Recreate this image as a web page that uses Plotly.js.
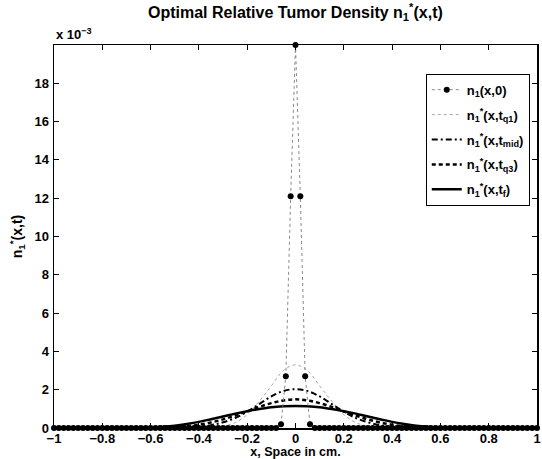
<!DOCTYPE html>
<html>
<head>
<meta charset="utf-8">
<script src="https://cdn.plot.ly/plotly-3.0.1.min.js"></script>
<style>html,body{margin:0;padding:0;background:#fff;}#chart{width:542px;height:459px;}</style>
</head>
<body>
<div id="chart"></div>
<script>
// Initial density n1(x,0), units of 1e-3, on grid step 0.02
const xInit = [-1,-0.98,-0.96,-0.94,-0.92,-0.9,-0.88,-0.86,-0.84,-0.82,-0.8,-0.78,-0.76,-0.74,-0.72,-0.7,-0.68,-0.66,-0.64,-0.62,-0.6,-0.58,-0.56,-0.54,-0.52,-0.5,-0.48,-0.46,-0.44,-0.42,-0.4,-0.38,-0.36,-0.34,-0.32,-0.3,-0.28,-0.26,-0.24,-0.22,-0.2,-0.18,-0.16,-0.14,-0.12,-0.1,-0.08,-0.06,-0.04,-0.02,0,0.02,0.04,0.06,0.08,0.1,0.12,0.14,0.16,0.18,0.2,0.22,0.24,0.26,0.28,0.3,0.32,0.34,0.36,0.38,0.4,0.42,0.44,0.46,0.48,0.5,0.52,0.54,0.56,0.58,0.6,0.62,0.64,0.66,0.68,0.7,0.72,0.74,0.76,0.78,0.8,0.82,0.84,0.86,0.88,0.9,0.92,0.94,0.96,0.98,1];
const nInit = [0,0,0,0,0,0,0,0,0,0,0,0,0,0,0,0,0,0,0,0,0,0,0,0,0,0,0,0,0,0,0,0,0,0,0,0,0,0,0,0,0,0,0,0,0,0,0,
  0.2,2.7,12.1,20,12.1,2.7,0.2,
  0,0,0,0,0,0,0,0,0,0,0,0,0,0,0,0,0,0,0,0,0,0,0,0,0,0,0,0,0,0,0,0,0,0,0,0,0,0,0,0,0,0,0,0,0,0,0];

// Optimal densities at later times, units of 1e-3, grid step 0.05
const xCurve = [-1,-0.95,-0.9,-0.85,-0.8,-0.75,-0.7,-0.65,-0.6,-0.55,-0.5,-0.45,-0.4,-0.35,-0.3,-0.25,-0.2,-0.15,-0.1,-0.05,0,0.05,0.1,0.15,0.2,0.25,0.3,0.35,0.4,0.45,0.5,0.55,0.6,0.65,0.7,0.75,0.8,0.85,0.9,0.95,1];
const nQ1  = [0,0,0,0,0,0,0,0,0,0,0,0,0.01,0.03,0.1,0.28,0.7,1.4,2.2,3.0,3.3,3.0,2.2,1.4,0.7,0.28,0.1,0.03,0.01,0,0,0,0,0,0,0,0,0,0,0,0];
const nMid = [0,0,0,0,0,0,0,0,0,0,0.01,0.03,0.07,0.15,0.3,0.52,0.85,1.25,1.65,1.93,2.03,1.93,1.65,1.25,0.85,0.52,0.3,0.15,0.07,0.03,0.01,0,0,0,0,0,0,0,0,0,0];
const nQ3  = [0,0,0,0,0,0,0,0,0,0.015,0.04,0.09,0.17,0.29,0.45,0.65,0.87,1.1,1.3,1.44,1.5,1.44,1.3,1.1,0.87,0.65,0.45,0.29,0.17,0.09,0.04,0.015,0,0,0,0,0,0,0,0,0];
const nTf  = [0,0,0,0,0,0,0,0.005,0.02,0.06,0.12,0.21,0.32,0.46,0.6,0.75,0.88,0.99,1.08,1.13,1.15,1.13,1.08,0.99,0.88,0.75,0.6,0.46,0.32,0.21,0.12,0.06,0.02,0.005,0,0,0,0,0,0,0];

const xTicks = [-1,-0.8,-0.6,-0.4,-0.2,0,0.2,0.4,0.6,0.8,1];
const xTickText = ['\u22121','\u22120.8','\u22120.6','\u22120.4','\u22120.2','0','0.2','0.4','0.6','0.8','1'];
const yTicks = [0,2,4,6,8,10,12,14,16,18];

const FONT = 'Liberation Sans, Arial, Helvetica, sans-serif';

const traces = [
  {x: xCurve, y: nQ1, name: 'n<sub>1</sub><sup>*</sup>(x,t<sub>q1</sub>)', mode: 'lines', cliponaxis: false,
   legendgroup: 'g2', legendrank: 2,
   line: {color: '#a8a8a8', width: 1, dash: 'dot', shape: 'spline'}},
  {x: xCurve, y: nMid, name: 'n<sub>1</sub><sup>*</sup>(x,t<sub>mid</sub>)', mode: 'lines', cliponaxis: false,
   legendgroup: 'g3', legendrank: 3,
   line: {color: '#000', width: 2, dash: '6px,3px,2px,3px', shape: 'spline'}},
  {x: xCurve, y: nQ3, name: 'n<sub>1</sub><sup>*</sup>(x,t<sub>q3</sub>)', mode: 'lines', cliponaxis: false,
   legendgroup: 'g4', legendrank: 4,
   line: {color: '#000', width: 2.5, dash: '4px,3px', shape: 'spline'}},
  {x: xCurve, y: nTf, name: 'n<sub>1</sub><sup>*</sup>(x,t<sub>f</sub>)', mode: 'lines', cliponaxis: false,
   legendgroup: 'g5', legendrank: 5,
   line: {color: '#000', width: 2.5, shape: 'spline'}},
  {x: xInit, y: nInit, name: 'n<sub>1</sub>(x,0)', mode: 'lines+markers', cliponaxis: false,
   legendgroup: 'g1', legendrank: 1,
   line: {color: '#8a8a8a', width: 1, dash: 'dot'},
   marker: {color: '#000', size: 6, symbol: 'circle'}}
];

const axisCommon = {
  showgrid: false, zeroline: false, showline: true, linecolor: '#000', linewidth: 1.5,
  mirror: 'ticks', ticks: 'inside', ticklen: 5, tickwidth: 1, tickcolor: '#000',
  tickfont: {family: FONT, size: 13, color: '#000', weight: 'bold'}
};

const layout = {
  width: 542, height: 459,
  margin: {l: 54, r: 5, t: 45, b: 31},
  paper_bgcolor: '#fff', plot_bgcolor: '#fff',
  title: {text: 'Optimal Relative Tumor Density n<sub>1</sub><sup>*</sup>(x,t)',
          font: {family: FONT, size: 16, color: '#000', weight: 'bold'},
          x: 0.545, xanchor: 'center', y: 0.985, yanchor: 'top'},
  xaxis: Object.assign({}, axisCommon, {range: [-1, 1], tickvals: xTicks, ticktext: xTickText,
          ticklabelstandoff: -2,
          title: {text: 'x, Space in cm.', font: {family: FONT, size: 12.5, color: '#000', weight: 'bold'}, standoff: 3}}),
  yaxis: Object.assign({}, axisCommon, {range: [0, 20], tickvals: yTicks, ticklabelstandoff: 1,
          title: {text: 'n<sub>1</sub><sup>*</sup>(x,t)', font: {family: FONT, size: 14, color: '#000', weight: 'bold'}, standoff: 8}}),
  showlegend: true,
  legend: {x: 0.985, xanchor: 'right', y: 0.925, yanchor: 'top',
           bgcolor: '#fff', bordercolor: '#000', borderwidth: 1,
           font: {family: FONT, size: 13, color: '#000', weight: 'bold'},
           itemwidth: 30, tracegroupgap: 5, traceorder: 'grouped'},
  annotations: [{text: 'x 10<sup>\u22123</sup>', xref: 'paper', yref: 'paper', x: 0, y: 1,
                 xanchor: 'left', yanchor: 'bottom', showarrow: false, yshift: 1,
                 font: {family: FONT, size: 13, color: '#000', weight: 'bold'}}]
};

Plotly.newPlot('chart', traces, layout, {displayModeBar: false, staticPlot: true});
</script>
</body>
</html>
